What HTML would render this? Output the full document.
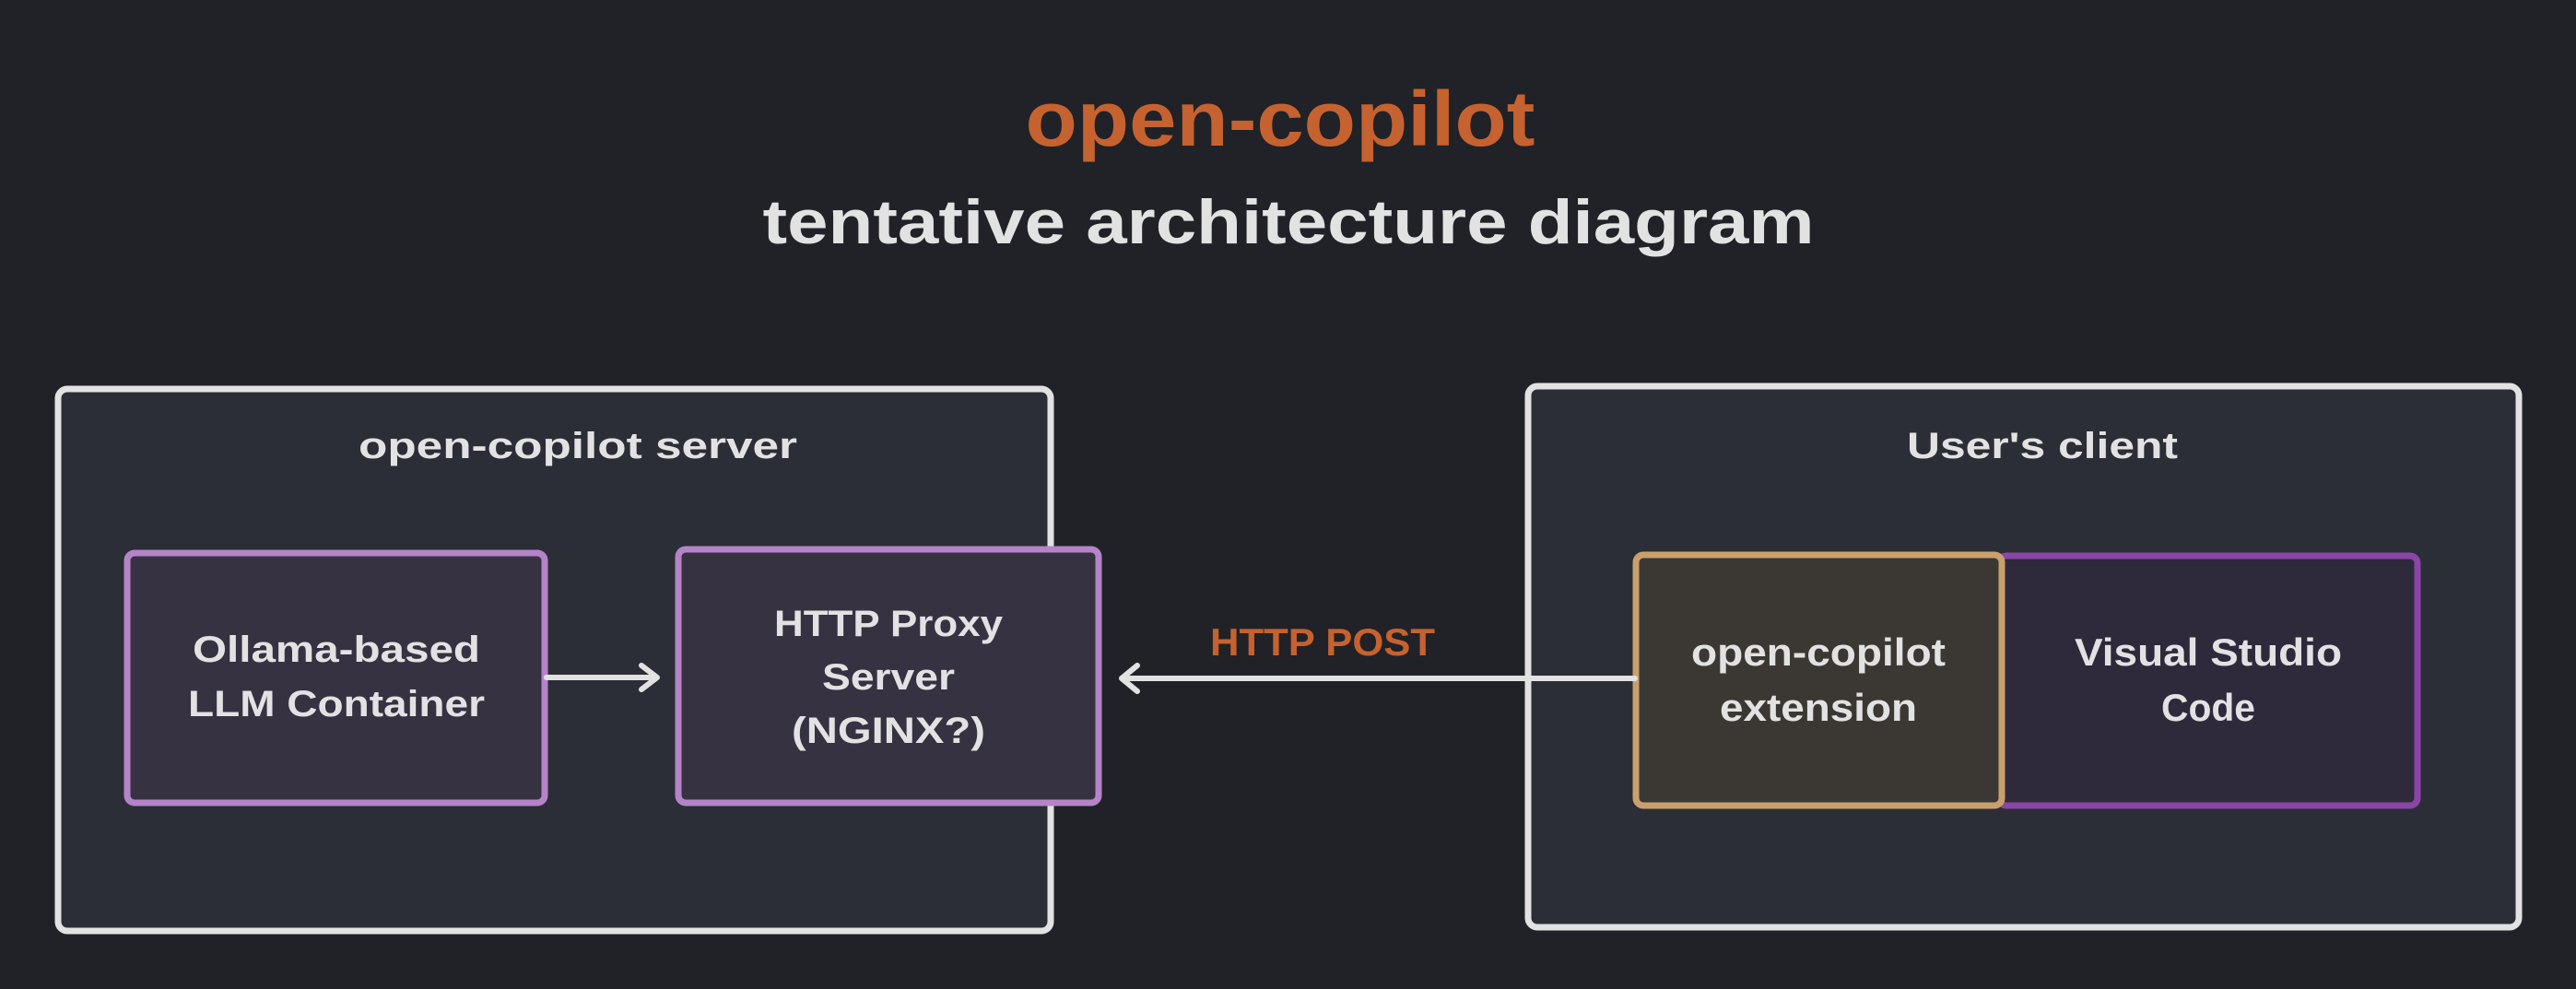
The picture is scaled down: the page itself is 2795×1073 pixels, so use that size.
<!DOCTYPE html>
<html><head><meta charset="utf-8"><style>
html,body{margin:0;padding:0;background:#202227;}
svg{display:block}
text{font-family:"Liberation Sans",sans-serif;font-weight:bold;}
</style></head><body>
<svg width="2795" height="1073" viewBox="0 0 2795 1073" xmlns="http://www.w3.org/2000/svg">
<rect width="2795" height="1073" fill="#202227"/>
<text x="1389" y="158" text-anchor="middle" font-size="84" fill="#c5622f" textLength="553" lengthAdjust="spacingAndGlyphs">open-copilot</text>
<text x="1398" y="264" text-anchor="middle" font-size="68" fill="#e2e2e2" textLength="1141" lengthAdjust="spacingAndGlyphs">tentative architecture diagram</text>

<rect x="63" y="422" width="1077" height="588" rx="10" fill="#2b2e36" stroke="#e2e2e2" stroke-width="7"/>
<rect x="1658" y="419" width="1075" height="587" rx="10" fill="#2b2e36" stroke="#e2e2e2" stroke-width="7"/>

<text x="627" y="497" text-anchor="middle" font-size="40" fill="#e2e2e2" textLength="476" lengthAdjust="spacingAndGlyphs">open-copilot server</text>
<text x="2216" y="497" text-anchor="middle" font-size="40" fill="#e2e2e2" textLength="294" lengthAdjust="spacingAndGlyphs">User's client</text>

<rect x="138" y="600" width="453" height="271" rx="8" fill="#363242" stroke="#b584c8" stroke-width="7"/>
<rect x="736" y="596" width="456" height="275" rx="8" fill="#363242" stroke="#b584c8" stroke-width="7"/>
<rect x="2169" y="603" width="454" height="271" rx="8" fill="#2f293c" stroke="#8a45a6" stroke-width="7"/>
<rect x="1775" y="602" width="397" height="272" rx="8" fill="#3b3834" stroke="#c9a06c" stroke-width="7"/>

<text x="365" y="718" text-anchor="middle" font-size="40" fill="#e2e2e2" textLength="312" lengthAdjust="spacingAndGlyphs">Ollama-based</text>
<text x="365" y="777" text-anchor="middle" font-size="40" fill="#e2e2e2" textLength="322" lengthAdjust="spacingAndGlyphs">LLM Container</text>

<text x="964" y="690" text-anchor="middle" font-size="40" fill="#e2e2e2" textLength="248" lengthAdjust="spacingAndGlyphs">HTTP Proxy</text>
<text x="964" y="748" text-anchor="middle" font-size="40" fill="#e2e2e2" textLength="144" lengthAdjust="spacingAndGlyphs">Server</text>
<text x="964" y="806" text-anchor="middle" font-size="40" fill="#e2e2e2" textLength="210" lengthAdjust="spacingAndGlyphs">(NGINX?)</text>

<text x="1973" y="722" text-anchor="middle" font-size="42" fill="#e2e2e2" textLength="276" lengthAdjust="spacingAndGlyphs">open-copilot</text>
<text x="1973" y="782" text-anchor="middle" font-size="42" fill="#e2e2e2" textLength="214" lengthAdjust="spacingAndGlyphs">extension</text>

<text x="2396" y="722" text-anchor="middle" font-size="42" fill="#e2e2e2" textLength="290" lengthAdjust="spacingAndGlyphs">Visual Studio</text>
<text x="2396" y="782" text-anchor="middle" font-size="42" fill="#e2e2e2" textLength="102" lengthAdjust="spacingAndGlyphs">Code</text>

<text x="1435" y="711" text-anchor="middle" font-size="42" fill="#c5622f" textLength="244" lengthAdjust="spacingAndGlyphs">HTTP POST</text>

<g stroke="#e2e2e2" stroke-width="6" fill="none" stroke-linecap="round" stroke-linejoin="round">
<line x1="593" y1="735" x2="712" y2="735"/>
<polyline points="696,722 713,735 696,748"/>
<line x1="1774" y1="736" x2="1218" y2="736"/>
<polyline points="1234,722 1217,736 1234,750"/>
</g>
</svg>
</body></html>
